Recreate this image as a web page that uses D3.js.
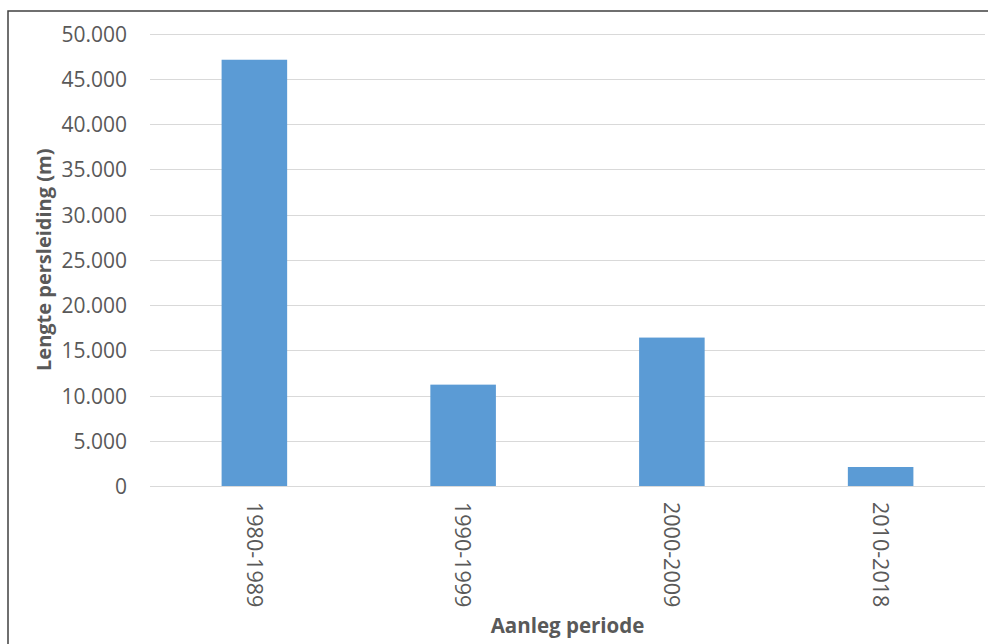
<!DOCTYPE html>
<html>
<head>
<meta charset="utf-8">
<script src="https://cdn.jsdelivr.net/npm/d3@7"></script>
<style>
  html, body { margin: 0; padding: 0; background: #fff; }
  svg { display: block; }
  text { font-family: "Open Sans", "Noto Sans", sans-serif; fill: #595959; }
</style>
</head>
<body>
<svg id="chart" width="988" height="644"></svg>
<script>
// Aanleglengte persleidingen per periode
const periods = ["1980-1989", "1990-1999", "2000-2009", "2010-2018"];
const lengths = [47100, 11200, 16400, 2100];
const yTicks = [0, 5000, 10000, 15000, 20000, 25000, 30000, 35000, 40000, 45000, 50000];
const yTitle = "Lengte persleiding (m)";
const xTitle = "Aanleg periode";

const svg = d3.select("#chart");
const plot = { left: 150, right: 985, top: 33.5, bottom: 486 };

// outer chart frame (top and left edges fall inside the canvas)
svg.append("path")
  .attr("d", `M8,644 V11 H988`)
  .attr("fill", "none")
  .attr("stroke", "#404040")
  .attr("stroke-width", 1.5);

const x = d3.scaleBand()
  .domain(periods)
  .range([plot.left, plot.right])
  .paddingInner(0.686)
  .paddingOuter(0.343);

const y = d3.scaleLinear()
  .domain([0, 50000])
  .range([plot.bottom, plot.top]);

const fmt = v => d3.format(",")(v).replace(/,/g, ".");

// gridlines
svg.append("g")
  .selectAll("line")
  .data(yTicks)
  .join("line")
  .attr("x1", plot.left)
  .attr("x2", plot.right)
  .attr("y1", d => Math.round(y(d)) + 0.5)
  .attr("y2", d => Math.round(y(d)) + 0.5)
  .attr("stroke", "#d9d9d9")
  .attr("stroke-width", 1.2);

// y axis labels
const yAxis = svg.append("g")
  .attr("transform", `translate(${plot.left - 23},0)`)
  .call(d3.axisLeft(y).tickValues(yTicks).tickFormat(fmt).tickSize(0).tickPadding(0));
yAxis.select(".domain").remove();
yAxis.selectAll("text")
  .attr("font-size", 21)
  .attr("fill", "#595959")
  .style("font-family", '"Open Sans", sans-serif')
  .attr("dy", "0.36em");

// bars
svg.append("g")
  .selectAll("rect")
  .data(periods.map((p, i) => ({ p, v: lengths[i] })))
  .join("rect")
  .attr("x", d => x(d.p))
  .attr("width", x.bandwidth())
  .attr("y", d => y(d.v))
  .attr("height", d => y(0) - y(d.v))
  .attr("fill", "#5b9bd5");

// x axis labels, rotated so they read top to bottom
const xAxis = svg.append("g")
  .attr("transform", `translate(0,${plot.bottom})`)
  .call(d3.axisBottom(x).tickSize(0).tickPadding(0));
xAxis.select(".domain").remove();
xAxis.selectAll("text")
  .attr("font-size", 21.5)
  .attr("fill", "#595959")
  .style("font-family", '"Open Sans", sans-serif')
  .attr("text-anchor", "start")
  .attr("transform", "rotate(90)")
  .attr("x", 16)
  .attr("y", 0)
  .attr("dy", "0.36em");

// axis titles
svg.append("text")
  .attr("transform", `translate(51,${(plot.top + plot.bottom) / 2}) rotate(-90)`)
  .attr("text-anchor", "middle")
  .attr("font-size", 20)
  .attr("font-weight", "bold")
  .text(yTitle);

svg.append("text")
  .attr("x", (plot.left + plot.right) / 2)
  .attr("y", 633)
  .attr("text-anchor", "middle")
  .attr("font-size", 20.5)
  .attr("font-weight", "bold")
  .text(xTitle);
</script>
</body>
</html>
